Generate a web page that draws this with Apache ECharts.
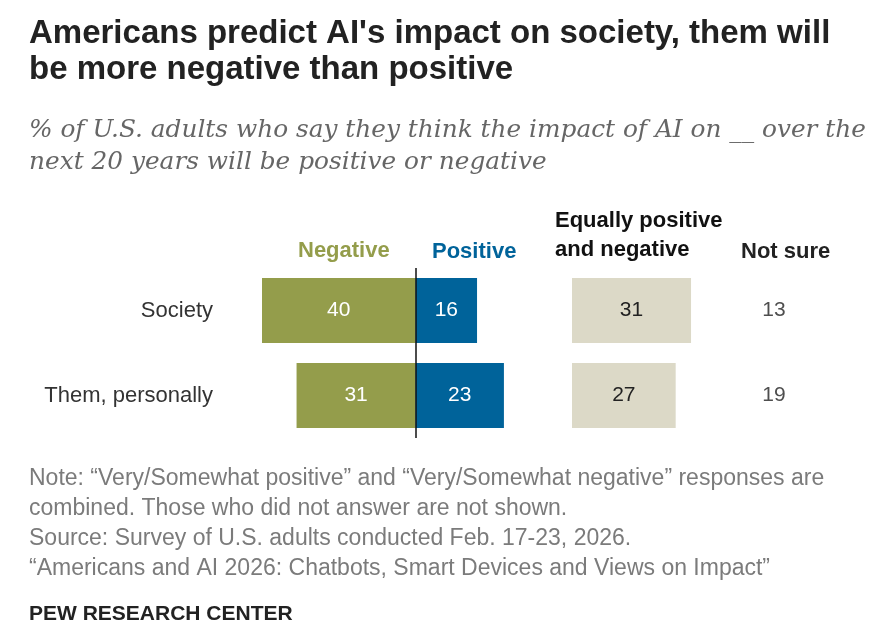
<!DOCTYPE html>
<html style="height: 100%">
    <head>
        <meta charset="utf-8">
    </head>
    <body style="height: 100%; margin: 0; background: #fff">
        <div id="container" style="height: 644px; width: 896px;"></div>
        <script type="text/javascript" src="https://cdn.jsdelivr.net/npm/echarts@6/dist/echarts.min.js"></script>
        <script type="text/javascript">
var dom = document.getElementById("container");
var myChart = echarts.init(dom);

const groups = ['Society', 'Them, personally'];
const negative = [40, 31];
const positive = [16, 23];
const equally = [31, 27];
const notSure = [13, 19];

const sans = "'Liberation Sans', Arial, sans-serif";
const colors = {
    neg: '#949d4b',
    pos: '#00639a',
    eq: '#dcd9c7'
};

// all three panels share the same rows
const rowTop = 268;
const rowH = 170;
const unit = 3.84; // px per percentage point

var option = {
    animation: false,
    title: [
        {
            text: "Americans predict AI's impact on society, them will\nbe more negative than positive",
            left: 24,
            top: 11,
            textStyle: {
                fontFamily: sans,
                fontWeight: 'bold',
                fontSize: 33,
                lineHeight: 36,
                color: '#222'
            }
        },
        {
            text: '% of U.S. adults who say they think the impact of AI on __ over the\nnext 20 years will be positive or negative',
            left: 24,
            top: 110,
            textStyle: {
                fontFamily: "'DejaVu Serif', serif",
                fontStyle: 'italic',
                fontWeight: 'normal',
                fontSize: 24.8,
                lineHeight: 32,
                color: '#666'
            }
        }
    ],
    grid: [
        { left: 262, top: rowTop, width: 70 * unit, height: rowH },
        { left: 572, top: rowTop, width: 40 * unit, height: rowH },
        { left: 734, top: rowTop, width: 80, height: rowH }
    ],
    xAxis: [
        { gridIndex: 0, type: 'value', min: -40, max: 30, show: false },
        { gridIndex: 1, type: 'value', min: 0, max: 40, show: false },
        { gridIndex: 2, type: 'value', min: 0, max: 1, show: false }
    ],
    yAxis: [
        {
            gridIndex: 0,
            type: 'category',
            inverse: true,
            data: groups,
            axisLine: { show: false, onZero: false },
            axisTick: { show: false },
            axisLabel: {
                margin: 49,
                fontFamily: sans,
                fontSize: 22,
                padding: [5, 0, 0, 0],
                color: '#333'
            }
        },
        { gridIndex: 1, type: 'category', inverse: true, data: groups, show: false },
        { gridIndex: 2, type: 'category', inverse: true, data: groups, show: false }
    ],
    series: [
        {
            name: 'Negative',
            type: 'bar',
            stack: 'impact',
            xAxisIndex: 0,
            yAxisIndex: 0,
            barWidth: 65,
            data: negative.map(function (v) { return -v; }),
            itemStyle: { color: colors.neg },
            label: {
                show: true,
                position: 'inside',
                fontFamily: sans,
                fontSize: 21,
                color: '#fff',
                formatter: function (p) { return Math.abs(p.value); }
            }
        },
        {
            name: 'Positive',
            type: 'bar',
            stack: 'impact',
            xAxisIndex: 0,
            yAxisIndex: 0,
            barWidth: 65,
            data: positive,
            itemStyle: { color: colors.pos },
            label: {
                show: true,
                position: 'inside',
                fontFamily: sans,
                fontSize: 21,
                color: '#fff'
            },
            markLine: {
                silent: true,
                symbol: 'none',
                label: { show: false },
                lineStyle: { color: '#111', width: 1.5, type: 'solid' },
                data: [{ xAxis: 0 }]
            }
        },
        {
            name: 'Equally positive and negative',
            type: 'bar',
            xAxisIndex: 1,
            yAxisIndex: 1,
            barWidth: 65,
            data: equally,
            itemStyle: { color: colors.eq },
            label: {
                show: true,
                position: 'inside',
                fontFamily: sans,
                fontSize: 21,
                color: '#222'
            }
        },
        {
            name: 'Not sure',
            type: 'scatter',
            xAxisIndex: 2,
            yAxisIndex: 2,
            symbolSize: 0,
            data: notSure.map(function (v, i) { return [0.5, groups[i], v]; }),
            label: {
                show: true,
                position: 'inside',
                fontFamily: sans,
                fontSize: 21,
                color: '#222',
                formatter: function (p) { return p.value[2]; }
            }
        }
    ],
    graphic: {
        elements: [
            {
                type: 'text', left: 298, top: 240,
                style: { text: 'Negative', font: 'bold 22px ' + sans, fill: colors.neg }
            },
            {
                type: 'text', left: 432, top: 241,
                style: { text: 'Positive', font: 'bold 22px ' + sans, fill: colors.pos }
            },
            {
                type: 'text', left: 555, top: 206,
                style: {
                    text: 'Equally positive\nand negative',
                    font: 'bold 22px ' + sans,
                    lineHeight: 29,
                    align: 'center',
                    fill: '#111'
                }
            },
            {
                type: 'text', left: 741, top: 241,
                style: { text: 'Not sure', font: 'bold 22px ' + sans, fill: '#222' }
            },
            {
                type: 'text', left: 29, top: 464,
                style: {
                    text: 'Note: \u201cVery/Somewhat positive\u201d and \u201cVery/Somewhat negative\u201d responses are\ncombined. Those who did not answer are not shown.\nSource: Survey of U.S. adults conducted Feb. 17-23, 2026.\n\u201cAmericans and AI 2026: Chatbots, Smart Devices and Views on Impact\u201d',
                    font: '23px ' + sans,
                    lineHeight: 30,
                    fill: '#7b7b7b'
                }
            },
            {
                type: 'text', left: 29, top: 604,
                style: { text: 'PEW RESEARCH CENTER', font: 'bold 21px ' + sans, fill: '#222' }
            }
        ]
    }
};

myChart.setOption(option);
        </script>
    </body>
</html>
